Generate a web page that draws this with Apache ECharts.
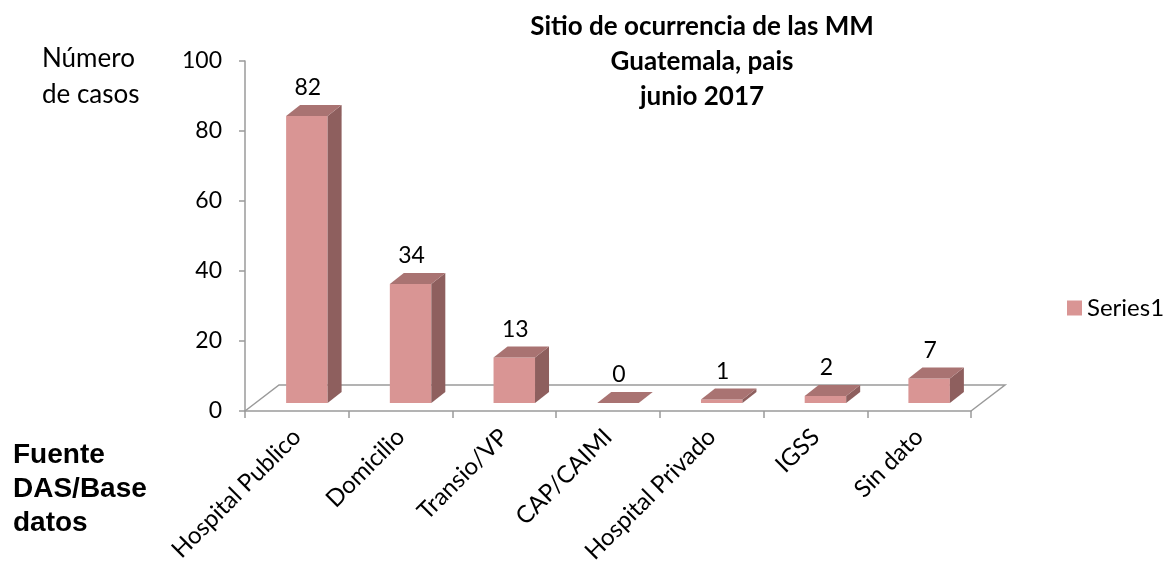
<!DOCTYPE html>
<html>
<head>
<meta charset="utf-8">
<script src="https://cdn.jsdelivr.net/npm/echarts@6/dist/echarts.min.js"></script>
<style>
  html, body { margin: 0; background: #fff; }
  #chart { width: 1176px; height: 572px; }
</style>
</head>
<body>
<div id="chart"></div>
<script>
// datos
const categories = ['Hospital Publico', 'Domicilio', 'Transio/VP', 'CAP/CAIMI', 'Hospital Privado', 'IGSS', 'Sin dato']
const casos = [82, 34, 13, 0, 1, 2, 7]
const titleLines = ['Sitio de ocurrencia de las MM', 'Guatemala, pais', 'junio 2017']
const yNameLines = ['Número', 'de casos']
const fuenteLines = ['Fuente', 'DAS/Base', 'datos']
const seriesName = 'Series1'

const FONT = 'Lato, "Open Sans", sans-serif'
const FRONT = '#d99594'
const SIDE = '#8e5f5e'
const TOP = '#a97372'
const AXIS = '#9a9a9a'
// desplazamientos "3D"
const FLOOR_DX = 34, FLOOR_DY = -26
const BAR_DX = 10, BAR_DY = -8
const DEPTH_DX = 14, DEPTH_DY = -11

// piso del grafico
function renderFloor(params, api) {
  const band = api.size([1, 0])[0]
  const first = api.coord([0, 0])
  const last = api.coord([categories.length - 1, 0])
  const x0 = first[0] - band / 2
  const x1 = last[0] + band / 2
  const y = first[1]
  return {
    type: 'polyline',
    silent: true,
    shape: {
      points: [[x0, y], [x0 + FLOOR_DX, y + FLOOR_DY], [x1 + FLOOR_DX, y + FLOOR_DY], [x1, y]]
    },
    style: { stroke: AXIS, lineWidth: 1.5, fill: null }
  }
}

// columna con cara frontal, lateral y superior
function renderBar(params, api) {
  const idx = api.value(0)
  const v = api.value(1)
  const base = api.coord([idx, 0])
  const top = api.coord([idx, v])
  const w = api.size([1, 0])[0] * 0.4
  const xl = base[0] - w / 2 + BAR_DX
  const xr = xl + w
  const yb = base[1] + BAR_DY
  const yt = top[1] + BAR_DY
  return {
    type: 'group',
    children: [
      {
        type: 'polygon',
        shape: { points: [[xl, yt], [xr, yt], [xr, yb], [xl, yb]] },
        style: { fill: FRONT }
      },
      {
        type: 'polygon',
        shape: { points: [[xr, yt], [xr + DEPTH_DX, yt + DEPTH_DY], [xr + DEPTH_DX, yb + DEPTH_DY], [xr, yb]] },
        style: { fill: SIDE }
      },
      {
        type: 'polygon',
        shape: { points: [[xl, yt], [xl + DEPTH_DX, yt + DEPTH_DY], [xr + DEPTH_DX, yt + DEPTH_DY], [xr, yt]] },
        style: { fill: TOP }
      },
      {
        type: 'text',
        x: (xl + xr) / 2 + 1,
        y: yt + DEPTH_DY - 17,
        style: {
          text: String(v),
          align: 'center',
          verticalAlign: 'middle',
          fontFamily: FONT,
          fontSize: 23,
          fill: '#000'
        }
      }
    ]
  }
}

const chart = echarts.init(document.getElementById('chart'))

const option = {
  animation: false,
  backgroundColor: '#fff',
  grid: { left: 245, right: 205, top: 61, bottom: 161 },
  legend: {
    data: [seriesName],
    left: 1062,
    top: 291,
    icon: 'rect',
    itemWidth: 15,
    itemHeight: 15,
    textStyle: { fontFamily: FONT, fontSize: 24, color: '#000' }
  },
  xAxis: {
    type: 'category',
    data: categories,
    axisLine: { lineStyle: { color: AXIS, width: 1.5 } },
    axisTick: { show: true, interval: 0, length: 7, lineStyle: { color: AXIS, width: 1.5 } },
    axisLabel: {
      interval: 0,
      rotate: 45,
      margin: 22,
      fontFamily: FONT,
      fontSize: 24,
      color: '#000'
    }
  },
  yAxis: {
    type: 'value',
    min: 0,
    max: 100,
    interval: 20,
    splitLine: { show: false },
    axisLine: { show: true, lineStyle: { color: AXIS, width: 1.5 } },
    axisTick: { show: true, length: 6, lineStyle: { color: AXIS, width: 1.5 } },
    axisLabel: { margin: 23, fontFamily: FONT, fontSize: 23, color: '#000' }
  },
  graphic: [
    {
      type: 'text',
      x: 702,
      y: 9,
      style: {
        text: titleLines.join('\n'),
        align: 'center',
        verticalAlign: 'top',
        fontFamily: FONT,
        fontWeight: 'bold',
        fontSize: 26,
        lineHeight: 35,
        fill: '#000'
      }
    },
    {
      type: 'text',
      x: 42,
      y: 41,
      style: {
        text: yNameLines.join('\n'),
        fontFamily: FONT,
        fontSize: 26,
        lineHeight: 36,
        fill: '#000'
      }
    },
    {
      type: 'text',
      x: 13,
      y: 438,
      style: {
        text: fuenteLines.join('\n'),
        fontFamily: '"Liberation Sans", Arial, sans-serif',
        fontWeight: 'bold',
        fontSize: 28,
        lineHeight: 34,
        fill: '#000'
      }
    }
  ],
  series: [
    {
      type: 'custom',
      silent: true,
      renderItem: renderFloor,
      data: [[0, 0]],
      encode: { x: 0, y: 1 },
      z: 1
    },
    {
      name: seriesName,
      type: 'custom',
      renderItem: renderBar,
      itemStyle: { color: FRONT },
      data: casos.map((v, i) => [i, v]),
      encode: { x: 0, y: 1 },
      z: 2
    }
  ]
}

chart.setOption(option)
</script>
</body>
</html>
